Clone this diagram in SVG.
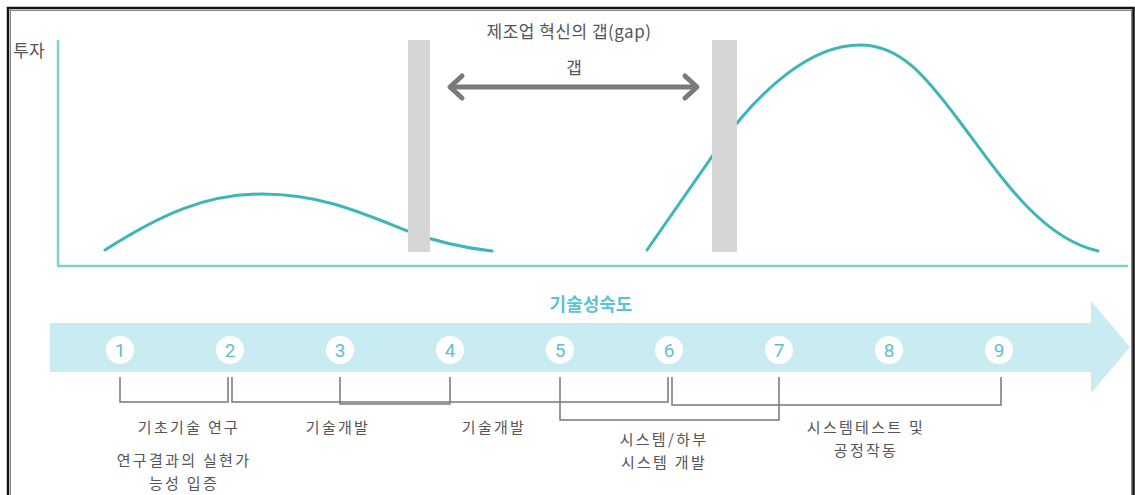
<svg xmlns="http://www.w3.org/2000/svg" width="1135" height="495" viewBox="0 0 1135 495">
<style>
.t{font-family:"Noto Sans CJK KR","Noto Sans",sans-serif;font-size:17px;fill:#555;text-anchor:middle}
.lb{font-family:"Noto Sans CJK KR","Noto Sans",sans-serif;font-size:15px;letter-spacing:2.3px;fill:#555;text-anchor:middle}
.num{font-family:"Roboto","Noto Sans",sans-serif;font-size:19px;fill:#5dbfd0;text-anchor:middle}
.br{fill:none;stroke:#777;stroke-width:1.5}
.curve{fill:none;stroke:#3fb6b6;stroke-width:3;stroke-linecap:round}
.axis{stroke:#7fd0d0;stroke-width:2.5;fill:none}
.bar{fill:#d6d6d6}
</style>
<rect width="1135" height="495" fill="#fff"/>
<rect x="8" y="8" width="1125.5" height="500" fill="none" stroke="#111" stroke-width="2.5"/>
<rect x="10.5" y="10.5" width="1121" height="500" fill="none" stroke="#666" stroke-width="0.8"/>

<g id="axes">
<line class="axis" x1="58" y1="40" x2="58" y2="266"/>
<line class="axis" x1="57" y1="266" x2="1128" y2="266"/>
<text class="t" x="29" y="57">투자</text>
</g>

<g id="curve-left"><path class="curve" d="M105,250 C160,215 205,194 262,194 C320,194 360,212 410,232 C440,243 465,248 492,251"/></g>
<g id="curve-right"><path class="curve" d="M647,250 C675,210 697,178 720,145 C760,90 810,45 860,45 C900,45 925,75 960,122 C1000,175 1040,238 1098,251"/></g>

<g id="bar-left"><rect class="bar" x="408" y="40" width="22" height="212"/></g>
<g id="bar-right"><rect class="bar" x="712" y="40" width="25" height="212"/></g>

<g id="gap-title"><text class="t" x="569" y="38" letter-spacing="0.5">제조업 혁신의 갭(gap)</text></g>
<g id="gap-arrow">
<text class="t" x="574" y="74">갭</text>
<line x1="451" y1="87" x2="696" y2="87" stroke="#7a7a7a" stroke-width="5"/>
<polyline points="462,76 450,87 462,98" fill="none" stroke="#7a7a7a" stroke-width="5" stroke-linecap="round" stroke-linejoin="round"/>
<polyline points="685,76 697,87 685,98" fill="none" stroke="#7a7a7a" stroke-width="5" stroke-linecap="round" stroke-linejoin="round"/>
</g>

<g id="maturity-band">
<text x="591" y="311" font-family="'Noto Sans CJK KR','Noto Sans',sans-serif" font-size="18" font-weight="bold" fill="#5cc3d6" text-anchor="middle">기술성숙도</text>
<rect x="50" y="323" width="1042" height="49" fill="#c9ecf3"/>
<polygon points="1091,301 1130,347 1091,393" fill="#c9ecf3"/>
</g>

<g id="levels">
<g id="l1"><circle cx="120" cy="350" r="14" fill="#fff"/><text class="num" x="120" y="357">1</text></g>
<g id="l2"><circle cx="230" cy="350" r="14" fill="#fff"/><text class="num" x="230" y="357">2</text></g>
<g id="l3"><circle cx="340" cy="350" r="14" fill="#fff"/><text class="num" x="340" y="357">3</text></g>
<g id="l4"><circle cx="450" cy="350" r="14" fill="#fff"/><text class="num" x="450" y="357">4</text></g>
<g id="l5"><circle cx="560" cy="350" r="14" fill="#fff"/><text class="num" x="560" y="357">5</text></g>
<g id="l6"><circle cx="669" cy="350" r="14" fill="#fff"/><text class="num" x="669" y="357">6</text></g>
<g id="l7"><circle cx="779" cy="350" r="14" fill="#fff"/><text class="num" x="779" y="357">7</text></g>
<g id="l8"><circle cx="889" cy="350" r="14" fill="#fff"/><text class="num" x="889" y="357">8</text></g>
<g id="l9"><circle cx="999" cy="350" r="14" fill="#fff"/><text class="num" x="999" y="357">9</text></g>
</g>

<g id="connectors">
<polyline class="br" points="120,377 120,402 228,402 228,377"/>
<polyline class="br" points="232,377 232,402 668,402 668,377"/>
<polyline class="br" points="340,377 340,404 450,404 450,377"/>
<polyline class="br" points="560,377 560,420 779,420 779,377"/>
<polyline class="br" points="672,377 672,405 1001,405 1001,377"/>
</g>

<g id="labels">
<text class="lb" x="189" y="433">기초기술 연구</text>
<text class="lb" x="184" y="466">연구결과의 실현가</text>
<text class="lb" x="184" y="489">능성 입증</text>
<text class="lb" x="338" y="433">기술개발</text>
<text class="lb" x="494" y="433">기술개발</text>
<text class="lb" x="664" y="445">시스템/하부</text>
<text class="lb" x="664" y="468">시스템 개발</text>
<text class="lb" x="866" y="433">시스템테스트 및</text>
<text class="lb" x="866" y="456">공정작동</text>
</g>
</svg>
